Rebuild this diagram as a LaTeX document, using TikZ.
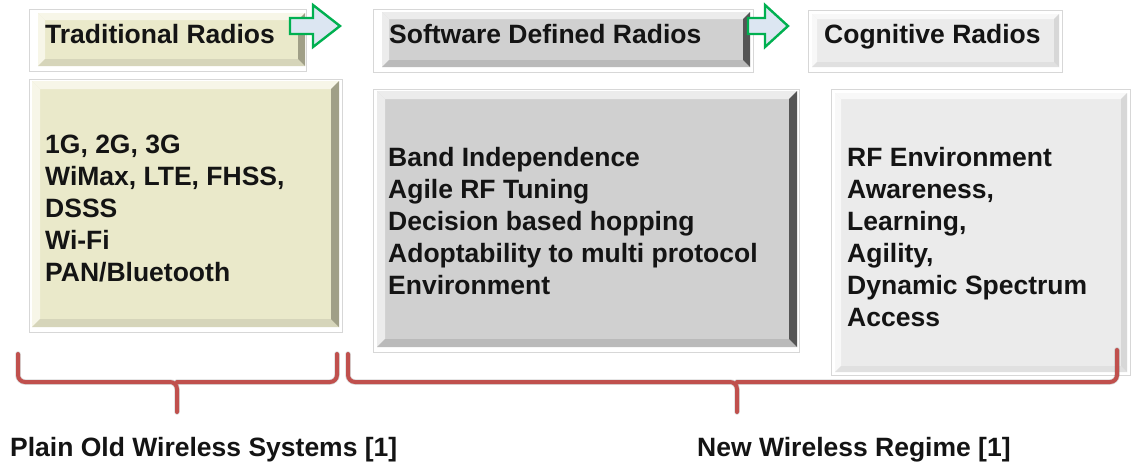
\documentclass[tikz,border=0pt]{standalone}
\usepackage{fontspec}
\setmainfont{Liberation Sans}
\usetikzlibrary{calc}

\definecolor{frameline}{RGB}{215,215,215}
\definecolor{beige}{RGB}{234,233,202}
\definecolor{beigehi}{RGB}{247,246,232}
\definecolor{beigedk}{RGB}{160,159,135}
\definecolor{beigemid}{RGB}{214,213,186}
\definecolor{sdr}{RGB}{208,208,208}
\definecolor{sdrhi}{RGB}{236,236,236}
\definecolor{sdrdk}{RGB}{85,85,85}
\definecolor{sdrmid}{RGB}{186,186,186}
\definecolor{cog}{RGB}{235,235,235}
\definecolor{coghi}{RGB}{248,248,248}
\definecolor{cogdk}{RGB}{215,215,215}
\definecolor{cogmid}{RGB}{224,224,224}
\definecolor{brace}{RGB}{192,80,77}
\definecolor{arrowline}{RGB}{0,176,80}
\definecolor{arrowfill}{RGB}{220,230,242}

% bevel strips on the four sides of a box node: node, width, top, right, bottom, left
\newcommand\bevelsides[6]{%
  \fill[#3] (#1.north west) -- (#1.north east) -- ($(#1.north east)+(-#2,#2)$) -- ($(#1.north west)+(#2,#2)$) -- cycle;
  \fill[#6] (#1.north west) -- (#1.south west) -- ($(#1.south west)+(#2,-#2)$) -- ($(#1.north west)+(#2,#2)$) -- cycle;
  \fill[#5] (#1.south west) -- (#1.south east) -- ($(#1.south east)+(-#2,-#2)$) -- ($(#1.south west)+(#2,-#2)$) -- cycle;
  \fill[#4] (#1.north east) -- (#1.south east) -- ($(#1.south east)+(-#2,-#2)$) -- ($(#1.north east)+(-#2,#2)$) -- cycle;
}

\tikzset{
  framebox/.style={draw=frameline, fill=white, line width=0.8pt, anchor=north west, inner sep=0pt, outer sep=0pt},
  facebox/.style={anchor=north west, inner sep=0pt, outer sep=0pt, fill=#1},
  titletext/.style={anchor=base west, inner sep=0pt, font=\fontsize{26.5}{32}\selectfont\bfseries, text=black!92},
  bodytext/.style={anchor=north west, inner sep=0pt, align=left, font=\fontsize{26.5}{32}\selectfont\bfseries, text=black!92},
  bracepath/.style={draw=brace, line width=4pt, rounded corners=7pt, line cap=round},
  braceshadow/.style={draw=black, opacity=0.15, line width=5.5pt, rounded corners=7pt, line cap=round},
  nextarrow/.style={draw=arrowline, fill=arrowfill, line width=2.4pt, line join=miter}
}

\begin{document}
\begin{tikzpicture}[x=1pt, y=-1pt]
\useasboundingbox (0,0) rectangle (1133,461);

% ---- title row ----
\node[framebox, minimum width=277pt, minimum height=62pt] (t1f) at (29,9) {};
\node[facebox=beige, minimum width=267pt, minimum height=53pt] (t1) at (38,13) {};
\bevelsides{t1}{7}{beigehi}{beigedk}{beigemid}{beigehi}
\node[titletext] (t1t) at (45,43.5) {Traditional Radios};

\node[framebox, minimum width=380pt, minimum height=63pt] (t2f) at (373,9) {};
\node[facebox=sdr, minimum width=368pt, minimum height=55pt] (t2) at (382,12) {};
\bevelsides{t2}{7}{sdrhi}{sdrdk}{sdrmid}{sdrhi}
\node[titletext] (t2t) at (389,43.5) {Software Defined Radios};

\node[framebox, minimum width=254pt, minimum height=62pt] (t3f) at (808,10) {};
\node[facebox=cog, minimum width=247pt, minimum height=53pt] (t3) at (812,14) {};
\bevelsides{t3}{5}{coghi}{cogdk}{cogmid}{coghi}
\node[titletext] (t3t) at (824,43.5) {Cognitive Radios};

% ---- progression arrows ----
\draw[nextarrow] (290,18) -- (313,18) -- (313,5) -- (340,26) -- (313,47) -- (313,34) -- (290,34) -- cycle;
\draw[nextarrow] (748,18) -- (765,18) -- (765,5) -- (788,26) -- (765,47) -- (765,34) -- (748,34) -- cycle;

% ---- description boxes ----
\node[framebox, minimum width=313pt, minimum height=253pt] (b1f) at (29,79) {};
\node[facebox=beige, minimum width=307pt, minimum height=246pt] (b1) at (32,81) {};
\bevelsides{b1}{8}{beigehi}{beigedk}{beigemid}{beigehi}
\node[bodytext] (b1t) at (45,135) {1G, 2G, 3G\\WiMax, LTE, FHSS,\\DSSS\\Wi-Fi\\PAN/Bluetooth};

\node[framebox, minimum width=426pt, minimum height=263pt] (b2f) at (373,89) {};
\node[facebox=sdr, minimum width=420pt, minimum height=256pt] (b2) at (377,91) {};
\bevelsides{b2}{8}{sdrhi}{sdrdk}{sdrmid}{sdrhi}
\node[bodytext] (b2t) at (388,147) {Band Independence\\Agile RF Tuning\\Decision based hopping\\Adoptability to multi protocol\\Environment};

\node[framebox, minimum width=299pt, minimum height=286pt] (b3f) at (831,89) {};
\node[facebox=cog, minimum width=292pt, minimum height=279pt] (b3) at (835,93) {};
\bevelsides{b3}{6}{coghi}{cogdk}{cogmid}{coghi}
\node[bodytext] (b3t) at (847,147) {RF Environment\\Awareness,\\Learning,\\Agility,\\Dynamic Spectrum\\Access};

% ---- grouping braces ----
\coordinate (l1) at (18,354);   \coordinate (l2) at (337,354);  \coordinate (lm) at (177,382); \coordinate (lt) at (177,412);
\coordinate (r1) at (348,354);  \coordinate (r2) at (1117,350); \coordinate (rm) at (737,382); \coordinate (rt) at (737,412);

\begin{scope}[shift={(2,2)}]
  \draw[braceshadow] (l1) |- (lm) -- (lt);
  \draw[braceshadow] (l2) |- (lm);
  \draw[braceshadow] (r1) |- (rm) -- (rt);
  \draw[braceshadow] (r2) |- (rm);
\end{scope}
\draw[bracepath] (l1) |- (lm) -- (lt);
\draw[bracepath] (l2) |- (lm);
\draw[bracepath] (r1) |- (rm) -- (rt);
\draw[bracepath] (r2) |- (rm);

\node[titletext] (plain) at (10,456) {Plain Old Wireless Systems [1]};
\node[titletext] (new) at (697,456) {New Wireless Regime [1]};
\end{tikzpicture}
\end{document}
